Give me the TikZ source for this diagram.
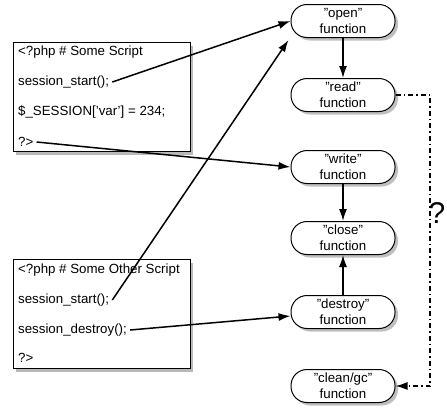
\documentclass[tikz,border=0pt]{standalone}
\usepackage{fontspec}
\setmainfont{Liberation Sans}
\usetikzlibrary{arrows.meta}
\usetikzlibrary{shadows}
\newcommand{\fname}[1]{\symbol{34}#1\symbol{34}\\function}
\tikzset{
func/.style={draw,fill=white,rounded corners=16pt,minimum width=104pt,minimum height=33pt,inner sep=0pt,align=center,line width=1pt,drop shadow={opacity=0.5,shadow xshift=3pt,shadow yshift=-3pt}},
codebox/.style={draw,fill=white,minimum width=177pt,minimum height=109pt,anchor=north west,line width=1pt,drop shadow={opacity=0.55,shadow xshift=2.5pt,shadow yshift=-3.5pt}},
codeline/.style={anchor=west,inner sep=3pt},
call/.style={line width=1.5pt,-{Latex[length=12pt,width=8pt]}},
maybe/.style={line width=1.5pt,dash pattern=on 5pt off 3pt on 1.5pt off 3pt,-{Latex[length=12pt,width=8pt]}}
}

\begin{document}
\begin{tikzpicture}[x=1pt,y=-1pt,font=\fontsize{13.3}{16}\selectfont]
\useasboundingbox (0,0) rectangle (447,408);
\node[codebox] (script) at (13,42) {};
\node[codeline] (s1) at (15,52) {<?php \# Some Script};
\node[codeline] (s2) at (15,82) {session\_start();};
\node[codeline] (s3) at (15,112) {\$\_SESSION[\symbol{39}var\symbol{39}] = 234;};
\node[codeline] (s4) at (15,142) {?>};
\node[codebox] (other) at (13,259) {};
\node[codeline] (o1) at (15,270) {<?php \# Some Other Script};
\node[codeline] (o2) at (15,300) {session\_start();};
\node[codeline] (o3) at (15,330) {session\_destroy();};
\node[codeline] (o4) at (15,358) {?>};

\node[func] (open) at (343,21) {\fname{open}};
\node[func] (read) at (343,95) {\fname{read}};
\node[func] (write) at (343,167) {\fname{write}};
\node[func] (close) at (343,238) {\fname{close}};
\node[func] (destroy) at (343,312) {\fname{destroy}};
\node[func] (clean) at (343,386) {\fname{clean/gc}};
\node (ask) at (437,213) {\fontsize{30}{30}\selectfont ?};

\coordinate (turn1) at (430,95);
\coordinate (turn2) at (430,386);

\draw[call] (s2.east) -- (open.west);
\draw[call] (s4.east) -- (write.west);
\draw[call] (o2.east) -- ([xshift=-2pt,yshift=-2pt]open.south west);
\draw[call] (o3.east) -- ([yshift=-4pt]destroy.west);
\draw[call] (open) -- (read);
\draw[call] (write) -- (close);
\draw[call] (destroy) -- (close);
\draw[maybe] (read.east) -- (turn1) -- (turn2) -- (clean.east);
\end{tikzpicture}
\end{document}
